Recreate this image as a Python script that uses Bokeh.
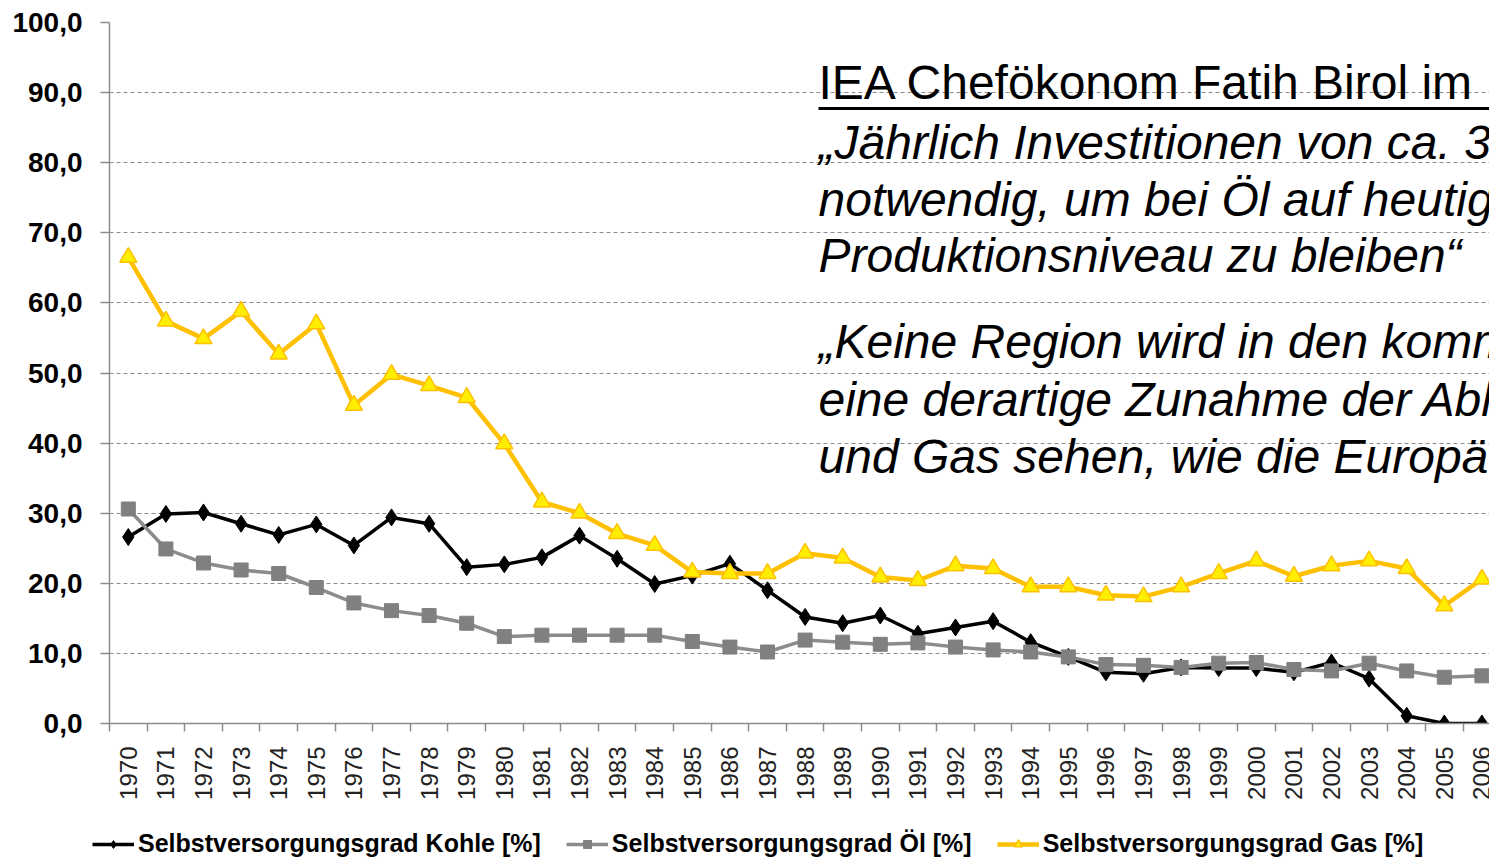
import math
from bokeh.plotting import figure
from bokeh.layouts import column, row
from bokeh.models import (Range1d, FixedTicker, Legend, LegendItem, Label)
from bokeh.embed import file_html
from bokeh.resources import INLINE

years = list(range(1970, 2007))
kohle = [26.6, 29.9, 30.1, 28.5, 26.9, 28.4, 25.4, 29.4, 28.5, 22.3, 22.7,
         23.7, 26.8, 23.5, 19.9, 21.1, 22.8, 19.0, 15.2, 14.3, 15.4, 12.8,
         13.7, 14.6, 11.6, 9.5, 7.3, 7.1, 8.0, 7.9, 7.9, 7.3, 8.7, 6.4,
         1.1, 0.0, 0.0]
oel = [30.6, 24.9, 22.9, 21.9, 21.4, 19.4, 17.2, 16.1, 15.4, 14.3, 12.4,
       12.6, 12.6, 12.6, 12.6, 11.7, 10.9, 10.2, 11.9, 11.6, 11.3, 11.5,
       10.9, 10.5, 10.2, 9.5, 8.4, 8.3, 8.0, 8.6, 8.7, 7.7, 7.5, 8.6,
       7.5, 6.6, 6.8]
gas = [66.5, 57.4, 54.9, 58.8, 52.7, 57.0, 45.4, 49.8, 48.2, 46.5, 39.9,
       31.6, 30.0, 27.1, 25.4, 21.6, 21.4, 21.4, 24.3, 23.6, 20.9, 20.4,
       22.5, 22.1, 19.5, 19.5, 18.3, 18.1, 19.5, 21.4, 23.2, 21.0, 22.5,
       23.2, 22.1, 16.8, 20.6]
y_ticks = [0, 10, 20, 30, 40, 50, 60, 70, 80, 90, 100]
series_labels = ["Selbstversorgungsgrad Kohle [%]",
                 "Selbstversorgungsgrad Öl [%]",
                 "Selbstversorgungsgrad Gas [%]"]
title_line = "IEA Chefökonom Fatih Birol im I"
quote_lines = ["„Jährlich Investitionen von ca. 3",
               "notwendig, um bei Öl auf  heutig",
               "Produktionsniveau zu bleiben“",
               "„Keine Region wird in den komm",
               "eine derartige Zunahme der Abh",
               "und Gas sehen, wie die Europä"]

FONT = "Liberation Sans"
W, H, LEG_H = 1489, 808, 50
left_border, top_border, bottom_border = 109, 22, 85
frame_w = W - left_border
frame_h = H - top_border - bottom_border
spacing = 37.6
x0 = years[0] - 0.5
x1 = x0 + frame_w / spacing

p = figure(width=W, height=H, output_backend="svg", toolbar_location=None,
           x_range=Range1d(x0, x1), y_range=Range1d(0, 100),
           min_border_left=left_border, min_border_right=0,
           min_border_top=top_border, min_border_bottom=bottom_border)
p.outline_line_color = None
p.background_fill_color = "white"
p.border_fill_color = "white"

# axes
xa = p.xaxis[0]
xa.ticker = FixedTicker(ticks=years, minor_ticks=[y - 0.5 for y in years] + [years[-1] + 0.5])
xa.major_tick_out = 0
xa.major_tick_in = 0
xa.minor_tick_out = 8
xa.minor_tick_in = 0
xa.minor_tick_line_color = "#8c8c8c"
xa.minor_tick_line_width = 1.5
xa.axis_line_color = "#8c8c8c"
xa.axis_line_width = 1.5
xa.major_label_orientation = math.pi / 2
xa.major_label_standoff = 15
xa.major_label_text_font = FONT
xa.major_label_text_font_size = "24px"
xa.major_label_text_color = "#222222"

ya = p.yaxis[0]
ya.ticker = FixedTicker(ticks=y_ticks)
ya.major_label_overrides = {t: f"{t},0" for t in y_ticks}
ya.major_tick_out = 9
ya.major_tick_in = 0
ya.minor_tick_out = 0
ya.minor_tick_in = 0
ya.major_tick_line_color = "#8c8c8c"
ya.major_tick_line_width = 1.5
ya.axis_line_color = "#8c8c8c"
ya.axis_line_width = 1.5
ya.major_label_standoff = 18
ya.major_label_text_font = FONT
ya.major_label_text_font_size = "28px"
ya.major_label_text_font_style = "bold"
ya.major_label_text_color = "#000000"

p.xgrid.grid_line_color = None
p.ygrid.ticker = FixedTicker(ticks=y_ticks)
p.ygrid.grid_line_color = "#8c8c8c"
p.ygrid.grid_line_dash = "4 3"
p.ygrid.grid_line_width = 1

# series styles
styles = [
    dict(line_color="black", line_width=3.5, marker="diamond", size=17,
         fill_color="black", mline="black", mlw=1),
    dict(line_color="#8c8c8c", line_width=3.5, marker="square", size=14,
         fill_color="#808080", mline="#808080", mlw=1),
    dict(line_color="#FFC000", line_width=4.5, marker="triangle", size=17,
         fill_color="#FFEE00", mline="#FFC000", mlw=1.5),
]
series = [kohle, oel, gas]
for vals, st in zip(series, styles):
    p.line(years, vals, line_color=st["line_color"], line_width=st["line_width"])
    p.scatter(years, vals, marker=st["marker"], size=st["size"],
              fill_color=st["fill_color"], line_color=st["mline"], line_width=st["mlw"])

# text block
BASE_SHIFT = 18  # compensates the label baseline offset


def px_to_y(py):
    return (top_border + frame_h - py) / frame_h * 100


text_x = x0 + (818 - left_border) / spacing
p.add_layout(Label(x=text_x, y=px_to_y(100 - BASE_SHIFT), text=title_line, text_font=FONT,
                   text_font_size="48px", text_color="black", text_baseline="alphabetic"))
p.segment(x0=[text_x], y0=[px_to_y(108)], x1=[x1 + 1], y1=[px_to_y(108)],
          line_color="black", line_width=3)
for txt, py in zip(quote_lines, [160, 217, 273, 359, 417, 474]):
    p.add_layout(Label(x=text_x, y=px_to_y(py - BASE_SHIFT), text=txt, text_font=FONT,
                       text_font_size="48px", text_font_style="italic",
                       text_color="black", text_baseline="alphabetic"))

# legend strip: separate figure whose series lie outside its visible range
lg = figure(width=W, height=LEG_H, output_backend="svg", toolbar_location=None,
            x_range=Range1d(x0, x1), y_range=Range1d(-300, -200),
            x_axis_location=None, y_axis_location=None,
            min_border=0, min_border_left=0, min_border_right=0,
            min_border_top=0, min_border_bottom=0, outline_line_color=None)
lg.grid.visible = False
items = []
for lab, vals, st in zip(series_labels, series, styles):
    r1 = lg.line(years, vals, line_color=st["line_color"], line_width=st["line_width"])
    r2 = lg.scatter(years, vals, marker=st["marker"], size=st["size"] - 3,
                    fill_color=st["fill_color"], line_color=st["mline"], line_width=st["mlw"])
    items.append(LegendItem(label=lab, renderers=[r1, r2]))
legend = Legend(items=items, orientation="horizontal", location=(92, 0),
                glyph_width=42, glyph_height=20, label_standoff=4, spacing=25,
                padding=0, margin=0, border_line_color=None,
                background_fill_alpha=0,
                label_text_font=FONT, label_text_font_size="25px",
                label_text_font_style="bold", label_text_color="#000000")
lg.add_layout(legend, "center")

open("out.html", "w").write(file_html(column(p, row(lg, spacing=0), spacing=0), INLINE))
